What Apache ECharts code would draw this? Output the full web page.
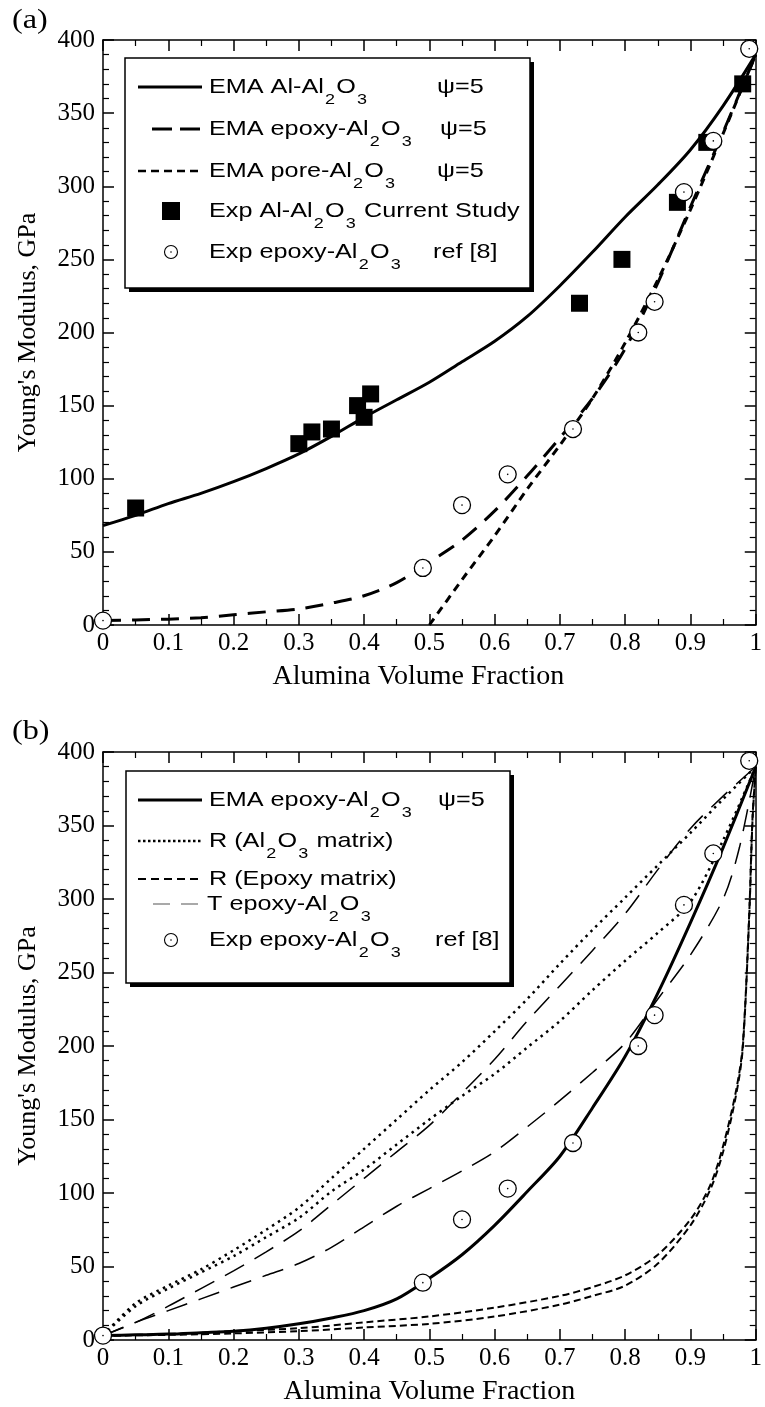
<!DOCTYPE html>
<html><head><meta charset="utf-8">
<script src="https://cdn.jsdelivr.net/npm/echarts/dist/echarts.min.js"></script>
<style>html,body{margin:0;padding:0;background:#fff}#c{width:765px;height:1407px}</style>
</head><body><div id="c"></div>
<script>
// ---------- data ----------
const xTickLabels = ['0','0.1','0.2','0.3','0.4','0.5','0.6','0.7','0.8','0.9','1'];
const yTickLabels = ['0','50','100','150','200','250','300','350','400'];

const fracGrid = [0,0.05,0.1,0.15,0.2,0.25,0.3,0.35,0.4,0.45,0.5,0.55,0.6,0.65,0.7,0.75,0.8,0.85,0.9,0.95,1];

// panel (a)
const emaAlY     = [68,75,83,90,98,107,117,129,142,154,166,180,194,211,232,255,279,301,325,355,390];
const emaEpoxyAY = [3,3.5,4,5,7,9,11,15,20,29,43,58,78,102,128,155,189,234,286,337,390];
const poreX      = [0.5,0.55,0.6,0.65,0.7,0.75,0.8,0.85,0.9,0.95,1];
const poreY      = [0,31,61,93,123,155,193,236,284,336,390];
const expAlX     = [0.05,0.30,0.32,0.35,0.39,0.40,0.41,0.73,0.795,0.88,0.925,0.98];
const expAlY     = [80,124,132,134,150,142,158,220,250,289,330,370];
const expEpoxyX  = [0,0.49,0.55,0.62,0.72,0.82,0.845,0.89,0.935,0.99];
const expEpoxyY  = [3,39,82,103,134,200,221,296,331,394];

// panel (b)
const emaEpoxyBY = [3,3.5,4,5,6,8,11,15,20,28,42,58,78,101,125,158,193,236,284,335,390];
const rAlMatUpY  = [3,25,37,48,61,75,90,110,130,150,170,189,210,232,256,279,301,323,345,368,390];
const rAlMatLoY  = [3,23,35,46,57,70,83,101,116,133,150,166,181,199,217,238,258,277,298,340,390];
const tUpY       = [3,12,23,35,47,60,74,92,110,128,146,168,191,217,241,265,290,320,348,370,390];
const tLoX       = [0,0.05,0.1,0.15,0.2,0.25,0.3,0.35,0.4,0.45,0.5,0.55,0.6,0.65,0.7,0.75,0.8,0.85,0.9,0.95,0.975,1];
const tLoY       = [3,12,20,28,36,44,52,63,77,91,103,115,128,145,163,182,202,232,262,300,335,390];
const rEpMatX    = [0,0.1,0.2,0.3,0.4,0.5,0.6,0.7,0.75,0.8,0.85,0.9,0.93,0.95,0.97,0.98,0.99,0.995,1];
const rEpMatUpY  = [3,4,6,8,12,16,22,30,36,44,58,82,105,132,170,200,290,355,390];
const rEpMatLoY  = [3,3.5,4.5,6,8.5,11,16,24,30,37,52,78,102,128,167,198,288,353,390];

// ---------- helpers ----------
const pairs = (xs, ys) => xs.map((x, i) => [x, ys[i]]);
const serif = 'Liberation Serif';
const sans = 'Liberation Sans';

function xAx(grid, pos) {
  const bottom = pos === 'bottom';
  return {
    type: 'value', gridIndex: grid, position: pos, min: 0, max: 1, interval: 0.1,
    axisLine: { show: true, onZero: false, lineStyle: { color: '#000', width: 1.5 } },
    axisTick: { show: true, inside: true, length: 11, lineStyle: { color: '#000', width: 1.5 } },
    minorTick: { show: true, splitNumber: 2, length: 6, lineStyle: { color: '#000', width: 1.2 } },
    splitLine: { show: false }, minorSplitLine: { show: false },
    axisLabel: { show: bottom, margin: 6, color: '#000', fontFamily: serif, fontSize: 25,
      showMinLabel: true, showMaxLabel: true,
      formatter: v => xTickLabels[Math.round(v * 10)] },
    name: bottom ? 'Alumina Volume Fraction' : '', nameLocation: 'middle', nameGap: 38,
    nameTextStyle: { color: '#000', fontFamily: serif, fontSize: 28,
      padding: grid === 0 ? [0, 22, 0, 0] : [0, 0, 0, 0] }
  };
}
function yAx(grid, pos) {
  const left = pos === 'left';
  return {
    type: 'value', gridIndex: grid, position: pos, min: 0, max: 400, interval: 50,
    axisLine: { show: true, onZero: false, lineStyle: { color: '#000', width: 1.5 } },
    axisTick: { show: true, inside: true, length: 11, lineStyle: { color: '#000', width: 1.5 } },
    minorTick: { show: true, splitNumber: 5, length: 6, lineStyle: { color: '#000', width: 1.2 } },
    splitLine: { show: false }, minorSplitLine: { show: false },
    axisLabel: { show: left, margin: 8, color: '#000', fontFamily: serif, fontSize: 25,
      showMinLabel: true, showMaxLabel: true,
      formatter: v => yTickLabels[Math.round(v / 50)] },
    name: left ? "Young's Modulus, GPa" : '', nameLocation: 'middle', nameGap: 62,
    nameTextStyle: { color: '#000', fontFamily: serif, fontSize: 26 }
  };
}
function curve(xi, yi, data, width, dash, color) {
  return {
    type: 'line', xAxisIndex: xi, yAxisIndex: yi, data: data, symbol: 'none',
    smooth: 0.3, clip: true, z: 2,
    lineStyle: { color: color || '#000', width: width, type: dash || 'solid', cap: 'butt', opacity: 1 }
  };
}
function squares(xi, yi, data) {
  return { type: 'scatter', xAxisIndex: xi, yAxisIndex: yi, data: data, symbol: 'rect',
    symbolSize: 17, itemStyle: { color: '#000', opacity: 1 }, z: 3 };
}
function circles(xi, yi, data) {
  return [
    { type: 'scatter', xAxisIndex: xi, yAxisIndex: yi, data: data, symbol: 'circle',
      symbolSize: 17, itemStyle: { color: '#fff', borderColor: '#000', borderWidth: 1.3, opacity: 1 }, z: 4 },
    { type: 'scatter', xAxisIndex: xi, yAxisIndex: yi, data: data, symbol: 'circle',
      symbolSize: 1.6, itemStyle: { color: '#000', opacity: 1 }, z: 5 }
  ];
}

// ---------- legend graphics ----------
const SX = 1.2;
const rich = {
  n: { fontFamily: sans, fontSize: 21, lineHeight: 40, verticalAlign: 'middle', fill: '#000' },
  s: { fontFamily: sans, fontSize: 15, lineHeight: 15, verticalAlign: 'bottom', fill: '#000', padding: [0, 1, 0, 1] }
};
const sub = (a, b) => `{n|${a}}{s|2}{n|O}{s|3}` + (b ? `{n|${b}}` : '');

function txt(x, y, text) {
  return { type: 'text', x: x, y: y, z: 20, scaleX: SX,
    style: { text: text, rich: rich, verticalAlign: 'middle', align: 'left', fill: '#000',
      font: `21px "${sans}"` } };
}
function plainTxt(x, y, text, font, sx) {
  return { type: 'text', x: x, y: y, z: 20, scaleX: sx || 1,
    style: { text: text, verticalAlign: 'middle', align: 'left', fill: '#000', font: font } };
}
function seg(x1, x2, y, w, dash, color) {
  return { type: 'line', z: 20, shape: { x1: x1, y1: y, x2: x2, y2: y },
    style: { stroke: color || '#000', lineWidth: w, lineDash: dash || null } };
}
function box(x, y, w, h) {
  return [
    { type: 'rect', z: 15, shape: { x: x + 4, y: y + 4, width: w, height: h }, style: { fill: '#000' } },
    { type: 'rect', z: 16, shape: { x: x, y: y, width: w, height: h }, style: { fill: '#fff', stroke: '#000', lineWidth: 1.5 } }
  ];
}
function circ(cx, cy) {
  return [
    { type: 'circle', z: 20, shape: { cx: cx, cy: cy, r: 6.5 }, style: { fill: '#fff', stroke: '#000', lineWidth: 1.1 } },
    { type: 'circle', z: 21, shape: { cx: cx, cy: cy, r: 0.8 }, style: { fill: '#000' } }
  ];
}

const rowsA = [87, 129, 171, 211, 252];
const rowsB = [800, 841, 879, 904, 940];
const f20 = `21px "${sans}"`;

const graphics = [
  plainTxt(12, 21, '(a)', `28px "${serif}"`, 1.15),
  plainTxt(12, 732, '(b)', `28px "${serif}"`, 1.15),
  ...box(125, 58, 405, 230),
  seg(138, 202, rowsA[0], 3),
  txt(209, rowsA[0], sub('EMA Al-Al')), plainTxt(437, rowsA[0], 'ψ=5', f20, SX),
  seg(152, 202, rowsA[1], 3, [20, 8]),
  txt(209, rowsA[1], sub('EMA epoxy-Al')), plainTxt(440, rowsA[1], 'ψ=5', f20, SX),
  seg(138, 202, rowsA[2], 2.5, [8, 5]),
  txt(209, rowsA[2], sub('EMA pore-Al')), plainTxt(437, rowsA[2], 'ψ=5', f20, SX),
  { type: 'rect', z: 20, shape: { x: 162, y: rowsA[3] - 9, width: 18, height: 18 }, style: { fill: '#000' } },
  txt(209, rowsA[3], sub('Exp Al-Al', ' Current Study')),
  ...circ(171, rowsA[4]),
  txt(209, rowsA[4], sub('Exp epoxy-Al')), plainTxt(433, rowsA[4], 'ref [8]', f20, SX),

  ...box(126, 771, 384, 212),
  seg(138, 202, rowsB[0], 3),
  txt(209, rowsB[0], sub('EMA epoxy-Al')), plainTxt(438, rowsB[0], 'ψ=5', f20, SX),
  seg(138, 202, rowsB[1], 2.5, [2.5, 2.5]),
  txt(209, rowsB[1], `{n|R (Al}{s|2}{n|O}{s|3}{n| matrix)}`),
  seg(138, 202, rowsB[2], 2, [8, 5]),
  txt(209, rowsB[2], '{n|R (Epoxy matrix)}'),
  seg(153, 198, rowsB[3], 1.2, [17, 11], '#555'),
  txt(207, rowsB[3], sub('T epoxy-Al')),
  ...circ(171, rowsB[4]),
  txt(209, rowsB[4], sub('Exp epoxy-Al')), plainTxt(435, rowsB[4], 'ref [8]', f20, SX)
];

// ---------- chart ----------
const chart = echarts.init(document.getElementById('c'), null, { renderer: 'canvas' });
chart.setOption({
  backgroundColor: '#fff',
  animation: false,
  grid: [
    { left: 103, right: 4, top: 40, bottom: 782 },
    { left: 103, right: 4, top: 752, bottom: 67 }
  ],
  xAxis: [xAx(0, 'bottom'), xAx(0, 'top'), xAx(1, 'bottom'), xAx(1, 'top')],
  yAxis: [yAx(0, 'left'), yAx(0, 'right'), yAx(1, 'left'), yAx(1, 'right')],
  series: [
    curve(0, 0, pairs(fracGrid, emaAlY), 3),
    curve(0, 0, pairs(fracGrid, emaEpoxyAY), 3, [18, 11]),
    curve(0, 0, pairs(poreX, poreY), 3, [8, 6]),
    squares(0, 0, pairs(expAlX, expAlY)),
    ...circles(0, 0, pairs(expEpoxyX, expEpoxyY)),

    curve(2, 2, pairs(fracGrid, emaEpoxyBY), 3),
    curve(2, 2, pairs(fracGrid, rAlMatUpY), 2.5, [2.5, 4.5]),
    curve(2, 2, pairs(fracGrid, rAlMatLoY), 2.5, [2.5, 4.5]),
    curve(2, 2, pairs(rEpMatX, rEpMatUpY), 2, [7, 4]),
    curve(2, 2, pairs(rEpMatX, rEpMatLoY), 2, [7, 4]),
    curve(2, 2, pairs(fracGrid, tUpY), 1.5, [22, 12]),
    curve(2, 2, pairs(tLoX, tLoY), 1.5, [22, 12]),
    ...circles(2, 2, pairs(expEpoxyX, expEpoxyY))
  ],
  graphic: graphics
});
</script></body></html>
